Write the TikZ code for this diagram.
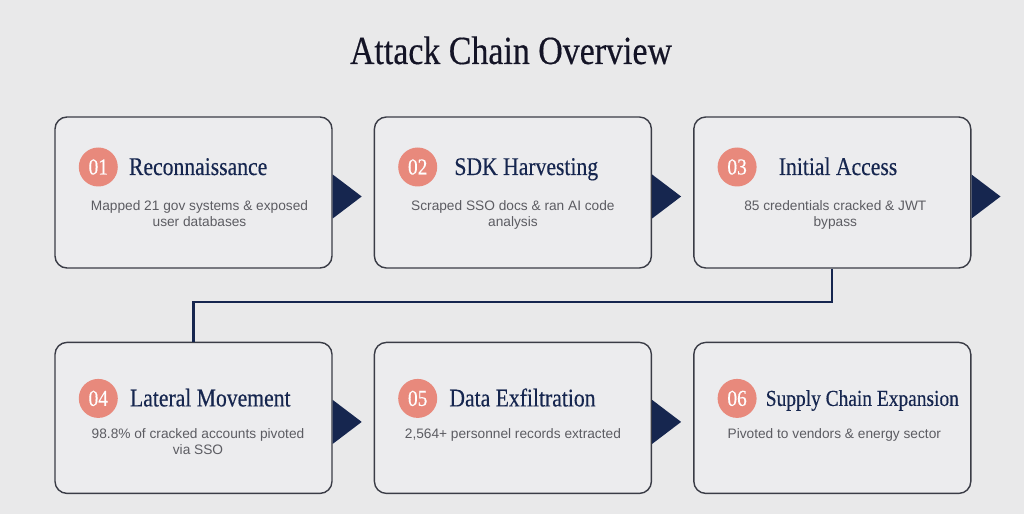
\documentclass[tikz,border=0pt]{standalone}
\usepackage{fontspec}
\usepackage{xcolor}
\usetikzlibrary{positioning}
\newfontfamily\headfont[FakeStretch=0.85,FakeBold=0.35]{Liberation Serif}
\newfontfamily\bodyfont{Liberation Sans}
\definecolor{paper}{RGB}{233,233,234}
\definecolor{boxfill}{RGB}{236,236,238}
\definecolor{edge}{RGB}{58,60,70}
\definecolor{navy}{RGB}{22,38,79}
\definecolor{salmon}{RGB}{232,137,124}
\definecolor{ink}{RGB}{92,92,98}
\definecolor{headink}{RGB}{20,20,38}

\begin{document}
\begin{tikzpicture}[
  stepbox/.style={draw=edge, fill=boxfill, line width=0.8pt, rounded corners=0.24cm,
    minimum width=5.54cm, minimum height=3.02cm, inner sep=0pt},
  stepnum/.style={circle, fill=salmon, text=white, minimum size=0.78cm, inner sep=0pt,
    font=\headfont\fontsize{13}{13}\selectfont},
  steptitle/.style={anchor=base west, inner sep=0pt, text=navy,
    font=\headfont\fontsize{14.5}{16}\selectfont},
  stepnote/.style={anchor=north, inner sep=0pt, align=center, text=ink,
    font=\bodyfont\fontsize{7.8}{8.9}\selectfont},
  link/.style={draw=navy, line width=1.2pt}
]
  % canvas
  \fill[paper] (0,0) rectangle (20.48,-10.28);
  \node[anchor=base, inner sep=0pt, text=headink, font=\headfont\fontsize{22.7}{26}\selectfont]
    (head) at (10.22,-1.28) {Attack Chain Overview};

  % boxes
  \node[stepbox] (b1) at (3.87,-3.85) {};
  \node[stepbox, right=0.82cm of b1] (b2) {};
  \node[stepbox, right=0.82cm of b2] (b3) {};
  \node[stepbox, below=1.46cm of b1] (b4) {};
  \node[stepbox, right=0.82cm of b4] (b5) {};
  \node[stepbox, right=0.82cm of b5] (b6) {};

  % row 1
  \node[stepnum] (n1) at ([xshift=0.88cm,yshift=0.51cm]b1.west) {01};
  \node[steptitle] (t1) at ([xshift=0.21cm,yshift=-0.16cm]n1.east) {Reconnaissance};
  \node[stepnote, xshift=0.12cm, yshift=-1.68cm] (d1) at (b1.north)
    {Mapped 21 gov systems \& exposed\\user databases};
  \node[stepnum] (n2) at ([xshift=0.88cm,yshift=0.51cm]b2.west) {02};
  \node[steptitle] (t2) at ([xshift=0.33cm,yshift=-0.16cm]n2.east) {SDK Harvesting};
  \node[stepnote, yshift=-1.68cm] (d2) at (b2.north)
    {Scraped SSO docs \& ran AI code\\analysis};
  \node[stepnum] (n3) at ([xshift=0.88cm,yshift=0.51cm]b3.west) {03};
  \node[steptitle] (t3) at ([xshift=0.43cm,yshift=-0.16cm]n3.east) {Initial Access};
  \node[stepnote, xshift=0.06cm, yshift=-1.68cm] (d3) at (b3.north)
    {85 credentials cracked \& JWT\\bypass};

  % row 2
  \node[stepnum] (n4) at ([xshift=0.88cm,yshift=0.39cm]b4.west) {04};
  \node[steptitle] (t4) at ([xshift=0.23cm,yshift=-0.16cm]n4.east) {Lateral Movement};
  \node[stepnote, xshift=0.09cm, yshift=-1.74cm] (d4) at (b4.north)
    {98.8\% of cracked accounts pivoted\\via SSO};
  \node[stepnum] (n5) at ([xshift=0.88cm,yshift=0.39cm]b5.west) {05};
  \node[steptitle] (t5) at ([xshift=0.23cm,yshift=-0.16cm]n5.east) {Data Exfiltration};
  \node[stepnote, yshift=-1.74cm] (d5) at (b5.north)
    {2,564+ personnel records extracted};
  \node[stepnum] (n6) at ([xshift=0.88cm,yshift=0.39cm]b6.west) {06};
  \node[steptitle, font=\headfont\fontsize{13}{15}\selectfont] (t6)
    at ([xshift=0.17cm,yshift=-0.15cm]n6.east) {Supply Chain Expansion};
  \node[stepnote, xshift=0.04cm, yshift=-1.74cm] (d6) at (b6.north)
    {Pivoted to vendors \& energy sector};

  % flow tips
  \foreach \b in {b1,b2,b3,b4,b5}
    \fill[navy] ([yshift=0.36cm]\b.east) -- ([xshift=0.58cm,yshift=-0.08cm]\b.east)
      -- ([yshift=-0.52cm]\b.east) -- cycle;

  % wrap to second row
  \draw[link] (b3.south) -- ++(0,-0.66) -| (b4.north);
\end{tikzpicture}
\end{document}
